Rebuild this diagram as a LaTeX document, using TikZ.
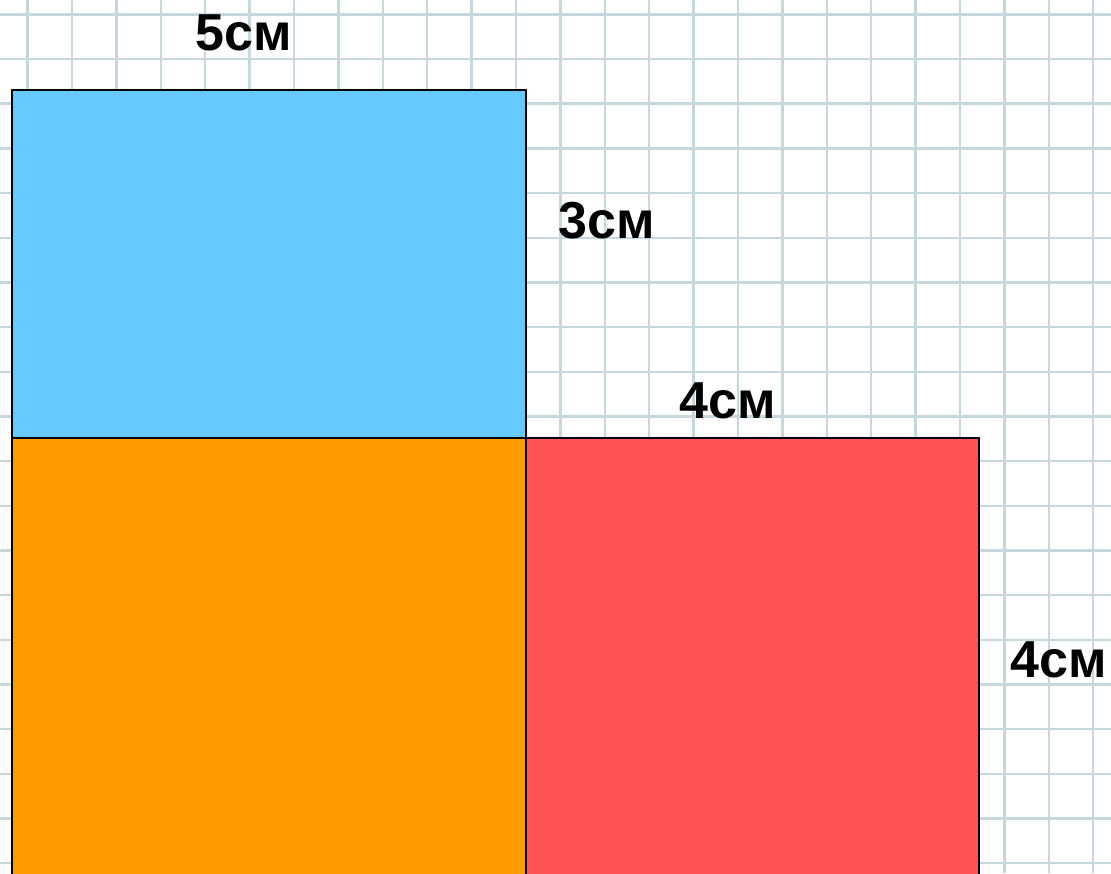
\documentclass[tikz,border=0pt]{standalone}
\usepackage{fontspec}
\setmainfont{Liberation Sans}
\definecolor{gridc}{RGB}{198,215,222}
\definecolor{blueF}{RGB}{102,202,255}
\definecolor{orangeF}{RGB}{255,156,0}
\definecolor{redF}{RGB}{255,82,82}
\tikzset{
  gridline/.style={draw=gridc, line width=2.4pt},
  piece/.style={draw=black, line width=2pt, rectangle, inner sep=0pt, anchor=north west},
  dimlabel/.style={font=\fontsize{52}{60}\selectfont\bfseries, anchor=base, inner sep=0pt}
}
\begin{document}
\begin{tikzpicture}[x=1pt,y=-1pt]
\useasboundingbox (0,0) rectangle (1111,873);
\clip (0,0) rectangle (1111,873);
\fill[white] (0,0) rectangle (1111,873);
\foreach \i in {0,...,24} \draw[gridline] ({27.5+44.4*\i},0) -- ++(0,873);
\foreach \j in {0,...,19} \draw[gridline] (0,{14.3+44.68*\j}) -- ++(1111,0);
\node[piece, fill=blueF, minimum width=514pt, minimum height=348pt] (blue) at (11,89) {};
\node[piece, fill=orangeF, minimum width=514pt, minimum height=460pt] (orange) at (11,437) {};
\node[piece, fill=redF, minimum width=453pt, minimum height=460pt] (red) at (525,437) {};
\node[dimlabel] (l5) at (244,50) {5см};
\node[dimlabel] (l3) at (607,238) {3см};
\node[dimlabel] (l4a) at (728,418) {4см};
\node[dimlabel] (l4b) at (1059,677) {4см};
\end{tikzpicture}
\end{document}
